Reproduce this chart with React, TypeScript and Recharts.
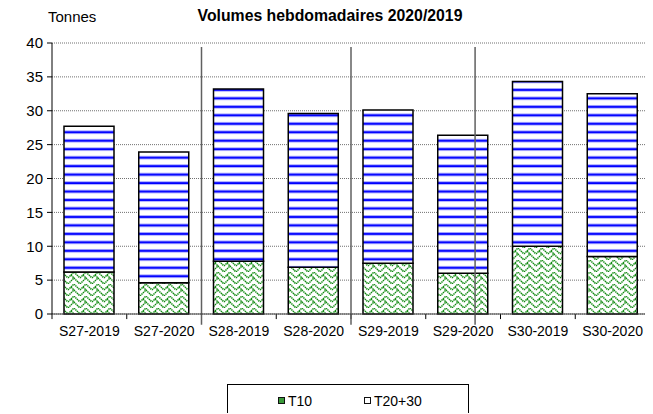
import React from 'react';
import { BarChart, Bar, XAxis, YAxis, CartesianGrid, ReferenceLine } from 'recharts';

const categories = ['S27-2019', 'S27-2020', 'S28-2019', 'S28-2020', 'S29-2019', 'S29-2020', 'S30-2019', 'S30-2020'];
const t10 = [6.2, 4.6, 7.8, 6.9, 7.5, 6.0, 10.0, 8.5];
const t2030 = [21.5, 19.3, 25.4, 22.7, 22.6, 20.4, 24.3, 24.0];
const yTicks = [0, 5, 10, 15, 20, 25, 30, 35, 40];
const boundaries = [0, 1, 2, 3, 4, 5, 6, 7, 8];
const separators = [2, 4, 5.66];

const data = categories.map((c, i) => ({ cat: c, pos: i + 0.5, t10: t10[i], t2030: t2030[i] }));

const FONT = '"Liberation Sans", Arial, sans-serif';

export default function App() {
  return (
    <div style={{ position: 'relative', width: 637, height: 406, fontFamily: FONT }}>
      <div style={{ position: 'absolute', left: 322, top: 0, transform: 'translateX(-50%)', whiteSpace: 'nowrap', fontSize: 15.8, lineHeight: '16px', fontWeight: 'bold', color: '#000' }}>
        Volumes hebdomadaires 2020/2019
      </div>
      <div style={{ position: 'absolute', left: 40, top: 1, whiteSpace: 'nowrap', fontSize: 15, lineHeight: '15px', color: '#000' }}>
        Tonnes
      </div>
      <div style={{ position: 'absolute', left: 0, top: 0, width: 637, height: 340, overflow: 'hidden' }}>
        <BarChart width={650} height={340} data={data} margin={{ top: 35, right: 8, bottom: 4, left: 0 }}>
          <defs>
            <pattern id="stripes" patternUnits="userSpaceOnUse" width={10} height={8.47} y={0}>
              <rect x={0} y={0} width={10} height={8.47} fill="#ffffff" />
              <rect x={0} y={3.77} width={10} height={1} fill="#a8a8ff" />
              <rect x={0} y={4.77} width={10} height={2} fill="#0000ff" />
              <rect x={0} y={6.77} width={10} height={0.8} fill="#a8a8ff" />
            </pattern>
            <pattern id="maze" patternUnits="userSpaceOnUse" width={12} height={12}>
              <rect x={0} y={0} width={12} height={12} fill="#ffffff" />
              <path d="M0 6 L6 0 L12 6 M0 12 L6 6 L12 12 M3 3 L6 6 M9 9 L12 12" stroke="#108a10" strokeWidth={1.5} strokeDasharray="1.4 0.7" fill="none" />
            </pattern>
          </defs>
          <CartesianGrid horizontal vertical={false} stroke="#707070" strokeDasharray="1 1" />
          <XAxis
            dataKey="cat"
            interval={0}
            tickLine={false}
            axisLine={{ stroke: '#404040', strokeWidth: 1.2 }}
            height={30}
            tickSize={10}
            tickMargin={2}
            tick={{ fontSize: 14, fill: '#000', fontFamily: FONT }}
          />
          <XAxis xAxisId="sep" type="number" dataKey="pos" domain={[0, 8]} hide />
          <YAxis
            domain={[0, 40]}
            ticks={yTicks}
            width={44}
            tickSize={5}
            tickMargin={4}
            axisLine={{ stroke: '#000' }}
            tickLine={{ stroke: '#000' }}
            tick={{ fontSize: 15, fill: '#000', fontFamily: FONT }}
            interval={0}
          />
          {boundaries.map((b) => (
            <ReferenceLine
              key={'b' + b}
              xAxisId="sep"
              ifOverflow="visible"
              segment={[{ x: b, y: 0 }, { x: b, y: -0.75 }]}
              stroke="#000"
              strokeWidth={1}
            />
          ))}
          <Bar dataKey="t10" stackId="a" fill="url(#maze)" stroke="#000" strokeWidth={1.5} barSize={50} isAnimationActive={false} />
          <Bar dataKey="t2030" stackId="a" fill="url(#stripes)" stroke="#000" strokeWidth={1.5} barSize={50} isAnimationActive={false} />
          {separators.map((s) => (
            <ReferenceLine
              key={'s' + s}
              xAxisId="sep"
              ifOverflow="visible"
              segment={[{ x: s, y: 39.4 }, { x: s, y: -1.6 }]}
              stroke="#606060"
              strokeWidth={1.5}
            />
          ))}
        </BarChart>
      </div>
      <div style={{ position: 'absolute', left: 219, top: 376, width: 240, height: 28, borderTop: '1px solid #000', borderLeft: '1px solid #000', borderRight: '1px solid #000', background: '#fff' }}>
        <div style={{ position: 'absolute', left: 50, top: 12, width: 5, height: 5, border: '1.5px solid #111', background: '#3a9a3a' }} />
        <div style={{ position: 'absolute', left: 60, top: 9, fontSize: 14, lineHeight: '14px', color: '#000' }}>T10</div>
        <div style={{ position: 'absolute', left: 136, top: 12, width: 5, height: 5, border: '1.5px solid #111', background: '#fff' }} />
        <div style={{ position: 'absolute', left: 146, top: 9, fontSize: 14, lineHeight: '14px', color: '#000' }}>T20+30</div>
      </div>
    </div>
  );
}
